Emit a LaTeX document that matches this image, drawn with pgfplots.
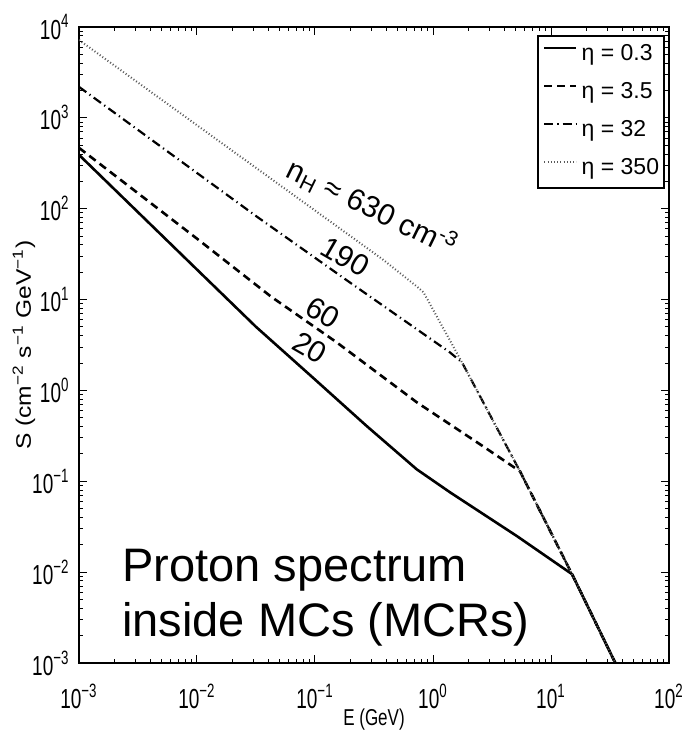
\documentclass[border=0pt]{standalone}
\usepackage{pgfplots}
\pgfplotsset{compat=1.18}
\usepackage{fontspec}
\setmainfont{Liberation Sans}
\begin{document}
\begin{tikzpicture}
\begin{axis}[
  scale only axis, width=295pt, height=318pt,
  xmode=log, ymode=log,
  xmin=1e-3, xmax=1e2, ymin=1e-3, ymax=1e4,
  axis line style={line width=0.9pt},
  tick align=inside,
  major tick length=4pt, minor tick length=2pt,
  every tick/.style={black, line width=0.5pt},
  xtick={1e-3,1e-2,1e-1,1,10,100},
  xticklabels={10\textsuperscript{−3},10\textsuperscript{−2},10\textsuperscript{−1},10\textsuperscript{0},10\textsuperscript{1},10\textsuperscript{2}},
  minor xtick={0.002,0.003,0.004,0.005,0.006,0.007,0.008,0.009,0.02,0.03,0.04,0.05,0.06,0.07,0.08,0.09,0.2,0.3,0.4,0.5,0.6,0.7,0.8,0.9,2,3,4,5,6,7,8,9,20,30,40,50,60,70,80,90},
  ytick={1e-3,1e-2,1e-1,1,10,100,1000,10000},
  yticklabels={10\textsuperscript{−3},10\textsuperscript{−2},10\textsuperscript{−1},10\textsuperscript{0},10\textsuperscript{1},10\textsuperscript{2},10\textsuperscript{3},10\textsuperscript{4}},
  minor ytick={0.002,0.003,0.004,0.005,0.006,0.007,0.008,0.009,0.02,0.03,0.04,0.05,0.06,0.07,0.08,0.09,0.2,0.3,0.4,0.5,0.6,0.7,0.8,0.9,2,3,4,5,6,7,8,9,20,30,40,50,60,70,80,90,200,300,400,500,600,700,800,900,2000,3000,4000,5000,6000,7000,8000,9000},
  xticklabel style={font=\fontsize{9.5}{10}\selectfont, yshift=-5.5pt, yscale=1.45},
  yticklabel style={font=\fontsize{9.5}{10}\selectfont, xshift=-1.2pt, yscale=1.45},
  xlabel={E (GeV)},
  ylabel={S (cm\textsuperscript{−2} s\textsuperscript{−1} GeV\textsuperscript{−1})},
  every axis x label/.style={at={(axis description cs:0.5,-0.0896)}, anchor=center, font=\fontsize{8.5}{10}\selectfont, yscale=1.35},
  every axis y label/.style={at={(axis description cs:-0.0932,0.5)}, anchor=center, rotate=90, xscale=1.17, font=\fontsize{10.5}{12}\selectfont},
  legend cell align=left,
  legend image code/.code={\draw[#1] (0pt,3.5pt) -- (16pt,3.5pt);},
  legend style={at={(rel axis cs:0.993,0.987)}, anchor=north east, draw=black, line width=0.8pt,
    inner xsep=2.5pt, inner ysep=5pt, row sep=10pt,
    font=\fontsize{11.5}{12}\selectfont,
    nodes={inner sep=0pt, text height=7pt, text depth=2pt},
    /tikz/every odd column/.append style={column sep=2pt}},
]
\addplot[black, line width=1.3pt] coordinates {
(0.001,391.7) (0.01,21.38) (0.03162,5.012) (0.1,1.318) (0.2742,0.4055) (0.7278,0.1355) (1.393,0.07568) (5.152,0.02489) (15.07,0.009506) (35.08,0.001)};
\addlegendentry{η = 0.3}
\addplot[black, line width=1.3pt, dash pattern=on 4pt off 2.5pt] coordinates {
(0.001,467.7) (0.01,46.8) (0.04236,10.79) (0.1535,3.365) (0.7311,0.738) (2.655,0.2427) (5.458,0.1288) (15.07,0.009506) (35.08,0.001)};
\addlegendentry{η = 3.5}
\addplot[black, line width=1.1pt, dash pattern=on 4.5pt off 2pt on 0.6pt off 2pt] coordinates {
(0.001,2193) (0.03221,81.66) (0.1982,15.38) (1.393,2.618) (1.762,2.032) (5.458,0.1288) (15.07,0.009506) (35.08,0.001)};
\addlegendentry{η = 32}
\addplot[black!65, line width=1pt, dash pattern=on 0.5pt off 1.1pt] coordinates {
(0.001,7194) (0.3767,27.54) (0.7311,13.9) (0.832,12.0) (1.762,2.032) (5.458,0.1288) (15.07,0.009506) (35.08,0.001)};
\addlegendentry{η = 350}
\node[rotate=-26, font=\fontsize{15}{18}\selectfont] at (axis cs:0.304,102.6) {n\textsubscript{H} ≈ 630 cm\textsuperscript{-3}};
\node[rotate=-30, font=\fontsize{15}{18}\selectfont] at (axis cs:0.1795,29.7) {190};
\node[rotate=-30, font=\fontsize{15}{18}\selectfont] at (axis cs:0.117,7.19) {60};
\node[rotate=-30, font=\fontsize{15}{18}\selectfont] at (axis cs:0.0908,2.97) {20};
\node[anchor=base west, inner sep=0pt, font=\fontsize{23.5}{27.5}\selectfont] at (axis cs:0.002312,0.00796) {Proton spectrum};
\node[anchor=base west, inner sep=0pt, font=\fontsize{23.5}{27.5}\selectfont] at (axis cs:0.002312,0.00198) {inside MCs (MCRs)};
\coordinate (sw) at (rel axis cs:0,0);
\coordinate (ne) at (rel axis cs:1,1);
\end{axis}
\pgfresetboundingbox
\path[use as bounding box] ([xshift=-39.5pt,yshift=-35.5pt]sw) rectangle ([xshift=7pt,yshift=13.5pt]ne);
\end{tikzpicture}
\end{document}
